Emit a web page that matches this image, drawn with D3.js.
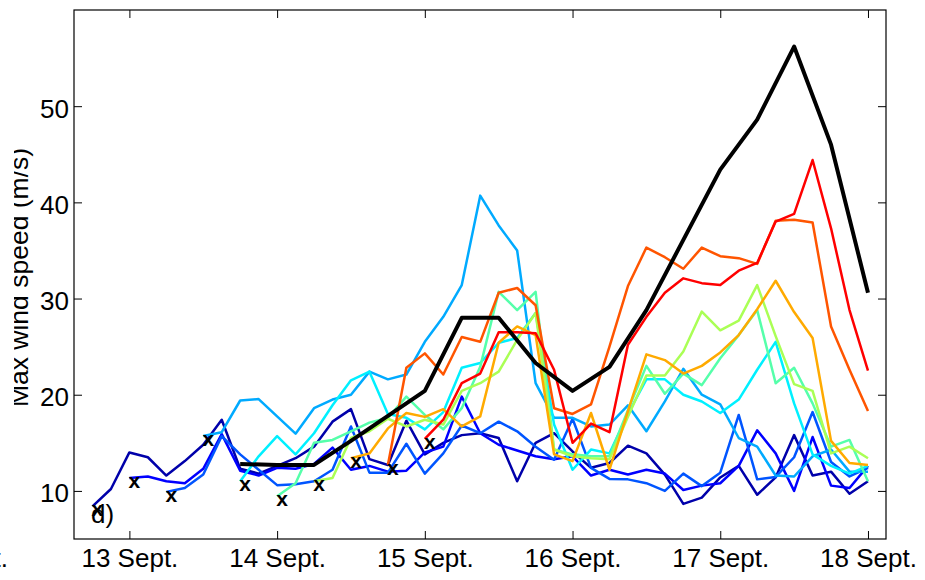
<!DOCTYPE html>
<html>
<head>
<meta charset="utf-8">
<script src="https://cdn.jsdelivr.net/npm/d3@7"></script>
<style>
  html, body { margin: 0; padding: 0; background: #fff; }
  svg { display: block; }
  text { font-family: "Liberation Sans", Arial, sans-serif; }
</style>
</head>
<body>
<svg id="chart" width="925" height="580"></svg>
<script>
// Axis ticks
const dayTicks = [13, 14, 15, 16, 17, 18];
const windTicks = [10, 20, 30, 40, 50];

// Forecast runs: start day (September) and colour of each run
const runStarts = [12.75, 13.0, 13.25, 13.5, 13.75, 14.0, 14.25, 14.5, 14.75, 15.0];
const runColors = ["#0000aa", "#0000ff", "#0055ff", "#00aaff", "#00f0ff",
                   "#55ffaa", "#aaff55", "#ffaa00", "#ff5500", "#ff0000"];
const runStepDays = 0.125; // 3-hourly output

// Max wind speed (m/s) of each forecast run, 3-hourly from its start
const run1 = [8.4, 10.2, 14.0, 13.5, 11.6, 13.1, 14.8, 17.4, 12.3, 11.8, 12.6, 13.4, 14.6, 17.2, 18.5,
              13.3, 12.7, 17.3, 13.8, 15.0, 15.8, 16.0, 15.5, 11.0, 15.0, 16.0, 14.1, 12.4, 12.9, 14.7,
              13.9, 11.7, 8.65, 9.3, 11.4, 12.6, 9.6, 11.4, 15.8, 11.6, 12.0, 9.7, 11.0];
const run2 = [11.35, 11.5, 11.0, 10.8, 12.3, 15.9, 12.1, 11.6, 12.4, 12.3, 12.8, 14.5, 12.2, 12.6, 12.0,
              12.1, 14.0, 14.6, 19.8, 16.0, 14.8, 14.2, 13.6, 13.3, 13.6, 11.6, 12.2, 11.7, 12.2, 11.8,
              10.1, 10.55, 10.8, 12.6, 16.3, 13.9, 10.0, 15.6, 10.55, 10.3, 12.6];
const run3 = [9.9, 10.3, 11.7, 15.7, 13.8, 12.2, 10.6, 10.7, 11.0, 12.2, 16.7, 11.9, 11.9, 14.9, 11.8,
              13.9, 16.8, 16.0, 17.2, 16.2, 14.6, 13.25, 17.5, 12.4, 11.25, 11.2, 10.8, 10.0, 11.8, 10.5,
              11.9, 17.9, 11.2, 11.45, 13.5, 18.2, 13.0, 11.5, 12.4];
const run4 = [15.7, 16.1, 19.4, 19.55, 17.75, 15.95, 18.6, 19.5, 20.0, 22.4, 21.6, 22.1, 25.5, 28.1,
              31.4, 40.7, 37.6, 35.0, 21.2, 17.6, 17.6, 16.7, 16.9, 18.9, 16.2, 19.3, 22.7, 20.0, 19.0,
              15.5, 14.6, 11.6, 11.5, 13.6, 14.3, 12.0, 12.0];
const run5 = [11.0, 13.6, 15.7, 13.8, 16.0, 18.9, 21.5, 22.4, 18.0, 17.6, 16.4, 18.2, 22.8, 23.3, 25.4,
              25.9, 28.5, 16.9, 12.2, 14.3, 13.9, 18.0, 21.6, 21.6, 20.0, 19.3, 18.1, 19.5, 22.6, 25.5,
              19.1, 13.8, 12.6, 11.8, 12.6];
const run6 = [9.45, 10.8, 15.0, 15.3, 16.2, 17.1, 17.6, 19.8, 17.9, 16.4, 18.6, 22.9, 30.7, 28.8, 30.7,
              14.3, 13.8, 13.6, 13.6, 18.4, 23.0, 20.1, 22.2, 21.0, 23.8, 26.2, 28.8, 21.2, 22.8, 19.1,
              14.6, 15.3, 11.0];
const run7 = [11.0, 11.35, 15.5, 16.2, 17.5, 16.7, 17.4, 16.9, 20.4, 21.2, 22.4, 25.7, 28.5, 14.3, 13.6,
              13.4, 13.3, 17.7, 22.0, 22.0, 24.5, 28.65, 26.7, 27.7, 31.4, 26.1, 21.1, 20.4, 13.9, 14.6,
              13.4];
const run8 = [13.4, 13.9, 16.5, 18.1, 17.7, 18.5, 16.7, 17.75, 25.4, 27.1, 26.2, 13.8, 13.1, 18.1, 12.2,
              18.3, 24.2, 23.6, 22.2, 23.0, 24.4, 26.2, 28.9, 31.85, 28.6, 25.9, 15.2, 12.9, 12.7];
const run9 = [12.7, 22.8, 24.3, 22.1, 26.0, 25.5, 30.6, 31.1, 29.3, 18.6, 18.0, 19.0, 25.0, 31.3, 35.3,
              34.3, 33.1, 35.3, 34.4, 34.2, 33.6, 38.1, 38.2, 37.9, 27.1, 22.6, 18.3];
const run10 = [15.4, 17.4, 21.2, 22.2, 26.5, 26.5, 26.4, 22.6, 15.0, 17.0, 16.1, 25.2, 28.1, 30.6, 32.1,
               31.6, 31.4, 32.9, 33.7, 38.0, 38.8, 44.4, 37.3, 28.8, 22.5];

// Best-track maximum wind speed, 6-hourly
const observedStart = 13.75;
const observedStepDays = 0.25;
const observed = [12.8, 12.7, 12.7, 15.2, 17.8, 20.4, 28.0, 28.0, 23.3, 20.4, 22.9, 28.8, 36.1, 43.4,
                  48.6, 56.2, 46.0, 30.6];

const runs = [run1, run2, run3, run4, run5, run6, run7, run8, run9, run10];

const svg = d3.select("#chart");
const x = d3.scaleLinear().domain([12.625, 18.122]).range([74, 886]);
const y = d3.scaleLinear().domain([5, 60]).range([539, 10]);

const toPoints = (start, step, values) => values.map((v, i) => ({ t: start + i * step, v }));
const line = d3.line().x(d => x(d.t)).y(d => y(d.v));

// Forecast runs
const runGroup = svg.append("g");
runs.forEach((vals, i) => {
  runGroup.append("path")
    .datum(toPoints(runStarts[i], runStepDays, vals))
    .attr("d", line)
    .attr("fill", "none")
    .attr("stroke", runColors[i])
    .attr("stroke-width", 2.5)
    .attr("stroke-linejoin", "round");
});

// Best track
svg.append("path")
  .datum(toPoints(observedStart, observedStepDays, observed))
  .attr("d", line)
  .attr("fill", "none")
  .attr("stroke", "#000")
  .attr("stroke-width", 4)
  .attr("stroke-linejoin", "round");

// Crosses at each run's initial time
svg.append("g").selectAll("text")
  .data(runs.map((vals, i) => ({ t: runStarts[i], v: vals[0] })))
  .join("text")
  .attr("x", d => x(d.t) + 5)
  .attr("y", d => y(d.v) + 10)
  .attr("text-anchor", "middle")
  .attr("font-weight", "bold")
  .attr("font-size", 21)
  .attr("fill", "#000")
  .text("x");

// Axes: ticks point inwards on all four sides
function styleAxis(g, showLabels) {
  g.select(".domain").remove();
  g.selectAll(".tick line").attr("stroke", "#000").attr("stroke-width", 1);
  g.selectAll(".tick text")
    .attr("fill", "#000")
    .attr("font-size", 26)
    .attr("font-family", "'Liberation Sans', Arial, sans-serif");
  if (!showLabels) g.selectAll(".tick text").remove();
}

const xb = svg.append("g").attr("transform", "translate(0,539)")
  .call(d3.axisBottom(x).tickValues(dayTicks).tickFormat(d => d + " Sept.")
    .tickSizeInner(-8).tickSizeOuter(0).tickPadding(9.5));
styleAxis(xb, true);

const xt = svg.append("g").attr("transform", "translate(0,10)")
  .call(d3.axisTop(x).tickValues(dayTicks).tickSizeInner(-8).tickSizeOuter(0));
styleAxis(xt, false);

const yl = svg.append("g").attr("transform", "translate(74,0)")
  .call(d3.axisLeft(y).tickValues(windTicks).tickSizeInner(-8).tickSizeOuter(0).tickPadding(5));
styleAxis(yl, true);
yl.selectAll(".tick text").attr("dy", "0.42em");

const yr = svg.append("g").attr("transform", "translate(886,0)")
  .call(d3.axisRight(y).tickValues(windTicks).tickSizeInner(-8).tickSizeOuter(0));
styleAxis(yr, false);

// Plot frame
svg.append("rect")
  .attr("x", 74).attr("y", 10).attr("width", 812).attr("height", 529)
  .attr("fill", "none").attr("stroke", "#000").attr("stroke-width", 1.2);

// Y-axis title, trimmed on its outer side
svg.append("defs").append("clipPath").attr("id", "ylabClip")
  .append("rect").attr("x", 14).attr("y", 0).attr("width", 60).attr("height", 580);
svg.append("g").attr("clip-path", "url(#ylabClip)")
  .append("text")
  .attr("transform", "translate(28,277.5) rotate(-90)")
  .attr("text-anchor", "middle")
  .attr("font-size", 26.5)
  .attr("fill", "#000")
  .text("Max wind speed (m/s)");

// Panel letter
svg.append("text")
  .attr("x", 91).attr("y", 523)
  .attr("font-size", 26)
  .attr("fill", "#000")
  .text("d)");

// Tail of the neighbouring panel's last date label
svg.append("text")
  .attr("x", 8).attr("y", 567)
  .attr("text-anchor", "end")
  .attr("font-size", 26)
  .attr("fill", "#000")
  .text("18 Sept.");
</script>
</body>
</html>
